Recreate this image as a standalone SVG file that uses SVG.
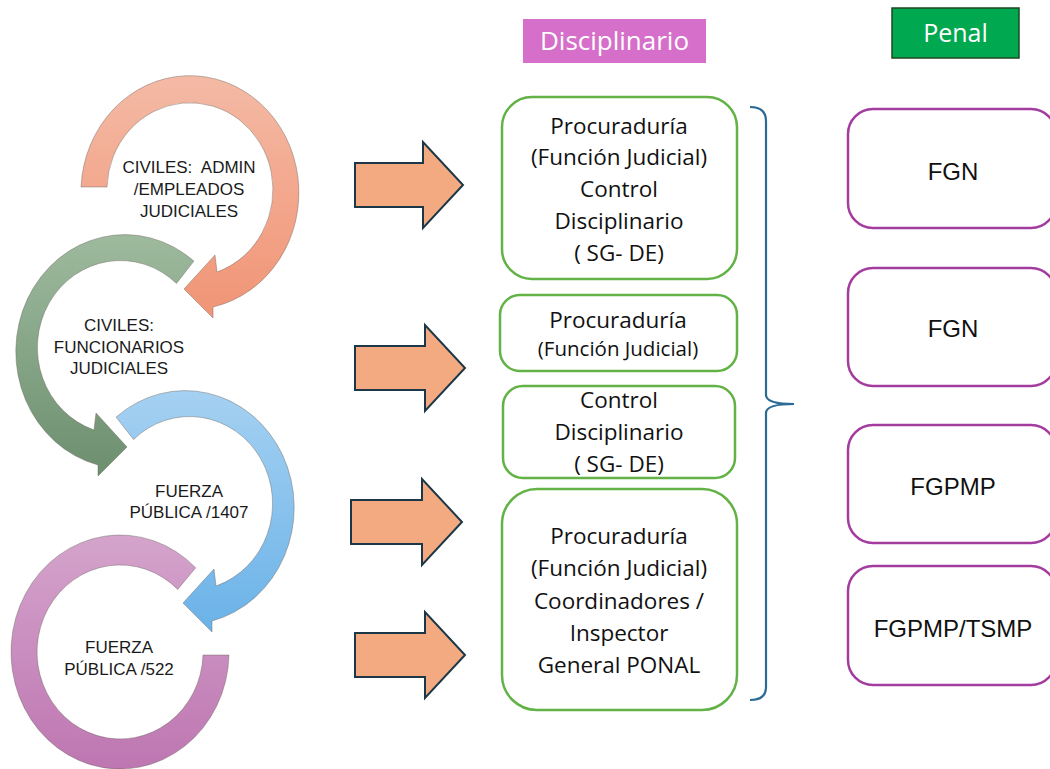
<svg xmlns="http://www.w3.org/2000/svg" width="1050" height="769" viewBox="0 0 1050 769">
<defs>
<linearGradient id="gSalmon" x1="0" y1="0" x2="0" y2="1"><stop offset="0" stop-color="#F4BAA5"/><stop offset="1" stop-color="#F19475"/></linearGradient>
<linearGradient id="gGreen" x1="0" y1="0" x2="0" y2="1"><stop offset="0" stop-color="#9EBA9E"/><stop offset="1" stop-color="#6C8F6F"/></linearGradient>
<linearGradient id="gBlue" x1="0" y1="0" x2="0" y2="1"><stop offset="0" stop-color="#A5D1F2"/><stop offset="1" stop-color="#6AB2E8"/></linearGradient>
<linearGradient id="gPurple" x1="0" y1="0" x2="0" y2="1"><stop offset="0" stop-color="#D4A4CC"/><stop offset="1" stop-color="#BE76B1"/></linearGradient>
<style>
.ring{stroke:#6d625c;stroke-opacity:0.55;stroke-width:0.8}
.rt{font-family:"Liberation Sans",Arial,sans-serif;font-size:17px;fill:#1a1a1a;text-anchor:middle}
.bigarrow{fill:#F3AA81;stroke:#1C3747;stroke-width:2;stroke-linejoin:miter}
.gbox{fill:#fff;stroke:#62B246;stroke-width:2.5}
.pbox{fill:#fff;stroke:#A23C9E;stroke-width:2.5}
.bt{font-family:"Open Sans",sans-serif;font-size:22.5px;fill:#111;text-anchor:middle}
.bts{font-family:"Open Sans",sans-serif;font-size:20.5px;fill:#111;text-anchor:middle}
.pt{font-family:"Liberation Sans",Arial,sans-serif;font-size:24px;fill:#111;text-anchor:middle}
.hdr{font-family:"Open Sans",sans-serif;fill:#fff;text-anchor:middle}
</style>
</defs>
<rect width="1050" height="769" fill="#fff"/>

<g id="ring-civiles-admin">
<path class="ring" fill="url(#gSalmon)" d="M107,187 L81,187 A109 117 0 1 1 213,307 L213,318 L184,289 L215,255 L217,272 A83 87 0 1 0 107,187 Z"/>
<text class="rt" x="189" y="173" xml:space="preserve">CIVILES:  ADMIN</text>
<text class="rt" x="189" y="195">/EMPLEADOS</text>
<text class="rt" x="189" y="217">JUDICIALES</text>
</g>

<g id="ring-civiles-funcionarios">
<path class="ring" fill="url(#gGreen)" d="M176.5,283.4 L193.9,261.1 A109 117 0 1 0 98,465 L98,476 L127,447 L96,413 L94,430 A83 87 0 1 1 176.5,283.4 Z"/>
<text class="rt" x="119" y="331">CIVILES:</text>
<text class="rt" x="119" y="353">FUNCIONARIOS</text>
<text class="rt" x="119" y="374">JUDICIALES</text>
</g>

<g id="ring-fuerza-1407">
<path class="ring" fill="url(#gBlue)" d="M133.5,439.4 L116.1,417.1 A109 117 0 1 1 212,621 L212,632 L183,603 L214,569 L216,586 A83 87 0 1 0 133.5,439.4 Z"/>
<text class="rt" x="189" y="497">FUERZA</text>
<text class="rt" x="189" y="518">PÚBLICA /1407</text>
</g>

<g id="ring-fuerza-522">
<path class="ring" fill="url(#gPurple)" d="M177.7,589.4 L195.7,567.8 A109 117 0 1 0 229,655 L203,655 A83 87 0 1 1 177.7,589.4 Z"/>
<text class="rt" x="119" y="653">FUERZA</text>
<text class="rt" x="119" y="675">PÚBLICA /522</text>
</g>

<g id="connectors">
<path class="bigarrow" d="M355,163 L423,163 L423,142 L463,185 L423,228 L423,207 L355,207 Z"/>
<path class="bigarrow" d="M355,346 L425,346 L425,325 L465,368 L425,411 L425,390 L355,390 Z"/>
<path class="bigarrow" d="M351,500 L422,500 L422,479 L462,522 L422,565 L422,544 L351,544 Z"/>
<path class="bigarrow" d="M355,633 L425,633 L425,612 L465,655 L425,698 L425,677 L355,677 Z"/>
<path d="M750,107 Q766,107 766,121 L766,395 Q766,404 794,404 Q766,404 766,413 L766,687 Q766,700 750,700" fill="none" stroke="#2B6A94" stroke-width="2.2"/>
</g>

<g id="hdr-disciplinario">
<rect x="523" y="19" width="183" height="44" fill="#D66FC9"/>
<text class="hdr" x="614.5" y="50" font-size="26">Disciplinario</text>
</g>

<g id="hdr-penal">
<rect x="892" y="8" width="127" height="50" fill="#00A84F" stroke="#1E4620" stroke-width="1.5"/>
<text class="hdr" x="955.5" y="42" font-size="25">Penal</text>
</g>

<g id="box-d1">
<rect class="gbox" x="502" y="97" width="235" height="182" rx="30"/>
<text class="bt" x="619" y="134">Procuraduría</text>
<text class="bt" x="619" y="165">(Función Judicial)</text>
<text class="bt" x="619" y="197">Control</text>
<text class="bt" x="619" y="229">Disciplinario</text>
<text class="bt" x="619" y="261">( SG- DE)</text>
</g>

<g id="box-d2">
<rect class="gbox" x="500" y="295" width="237" height="76" rx="20"/>
<text class="bt" x="618" y="328">Procuraduría</text>
<text class="bts" x="618" y="356">(Función Judicial)</text>
</g>

<g id="box-d3">
<rect class="gbox" x="503" y="386" width="232" height="92" rx="20"/>
<text class="bt" x="619" y="408">Control</text>
<text class="bt" x="619" y="440">Disciplinario</text>
<text class="bt" x="619" y="472">( SG- DE)</text>
</g>

<g id="box-d4">
<rect class="gbox" x="502" y="489" width="235" height="221" rx="35"/>
<text class="bt" x="619" y="544">Procuraduría</text>
<text class="bt" x="619" y="576">(Función Judicial)</text>
<text class="bt" x="619" y="609">Coordinadores /</text>
<text class="bt" x="619" y="641">Inspector</text>
<text class="bt" x="619" y="673">General PONAL</text>
</g>

<g id="box-p1">
<rect class="pbox" x="848" y="109" width="208" height="119" rx="25"/>
<text class="pt" x="953" y="180">FGN</text>
</g>
<g id="box-p2">
<rect class="pbox" x="848" y="268" width="208" height="118" rx="25"/>
<text class="pt" x="953" y="337">FGN</text>
</g>
<g id="box-p3">
<rect class="pbox" x="848" y="425" width="208" height="118" rx="25"/>
<text class="pt" x="953" y="495">FGPMP</text>
</g>
<g id="box-p4">
<rect class="pbox" x="848" y="566" width="208" height="119" rx="25"/>
<text class="pt" x="953" y="637">FGPMP/TSMP</text>
</g>
</svg>
